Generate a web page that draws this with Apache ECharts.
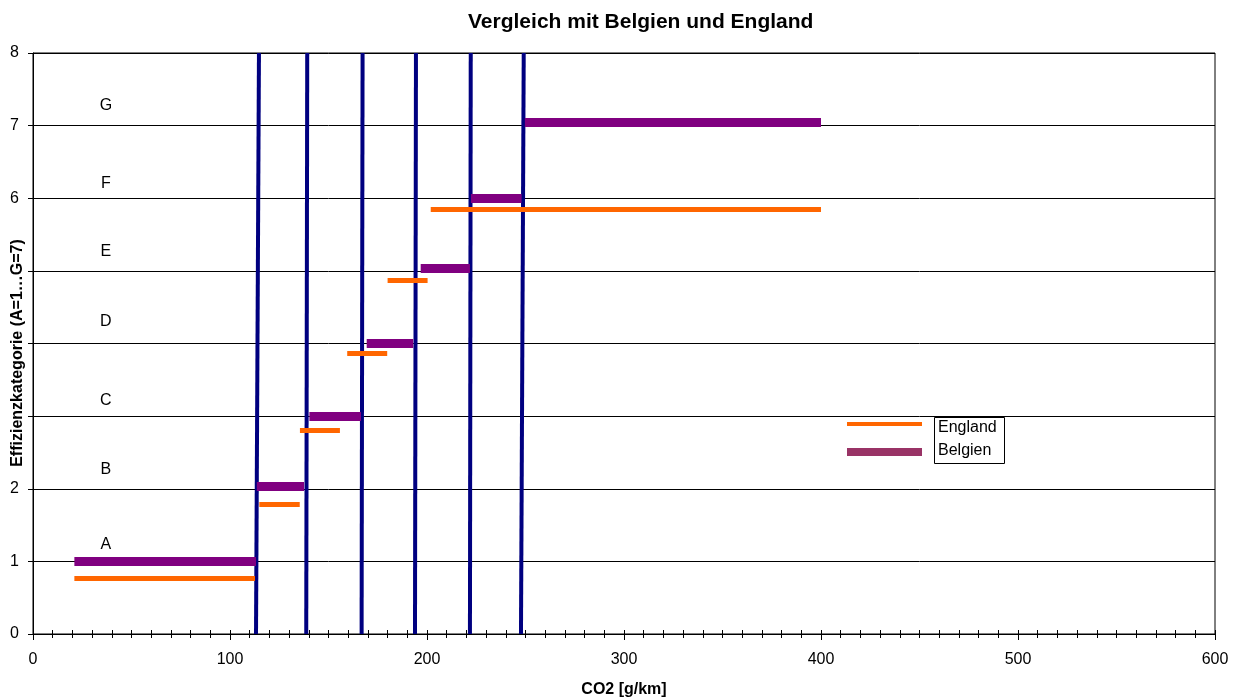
<!DOCTYPE html>
<html>
<head>
<meta charset="utf-8">
<script src="https://cdn.jsdelivr.net/npm/echarts@6/dist/echarts.min.js"></script>
<style>
  html, body { margin: 0; padding: 0; background: #fff; }
  #chart { width: 1238px; height: 699px; }
</style>
</head>
<body>
<div id="chart"></div>
<script>
const FONT = '"Liberation Sans", Arial, sans-serif';

// Class boundaries: x at the bottom (level 0) and at the top (level 8)
const boundaryBottom = [113.2, 138.7, 166.8, 193.9, 221.8, 247.7];
const boundaryTop    = [114.7, 139.2, 167.3, 194.4, 222.2, 249.1];

// Belgium: CO2 range per class and its level
const belgienStart = [21, 113.6, 140.3, 169.4, 196.8, 222.3, 249.7];
const belgienEnd   = [113.2, 137.6, 166.5, 193.0, 221.8, 248.0, 400];
const belgienLevel = [1.0, 2.03, 3.0, 4.0, 5.03, 6.0, 7.04];

// England: CO2 range per class and its level
const englandStart = [21, 114.9, 135.5, 159.5, 180, 201.9];
const englandEnd   = [112.7, 135.4, 155.8, 179.8, 200.3, 400];
const englandLevel = [0.77, 1.79, 2.8, 3.86, 4.87, 5.85];

// Class letters written inside the plot
const classLetters = ['A', 'B', 'C', 'D', 'E', 'F', 'G'];
const letterX = 37;
const letterY = [1.23, 2.26, 3.22, 4.3, 5.26, 6.2, 7.28];

const yAxisTitle = 'Effizienzkategorie (A=1…G=7)';

const segments = (starts, ends, levels) =>
  starts.map((s, i) => ({ coords: [[s, levels[i]], [ends[i], levels[i]]] }));

const chart = echarts.init(document.getElementById('chart'), null, { renderer: 'canvas' });

chart.setOption({
  animation: false,
  backgroundColor: '#fff',
  title: {
    text: 'Vergleich mit Belgien und England',
    left: 463,
    top: 7,
    textStyle: { fontFamily: FONT, fontSize: 21, fontWeight: 'bold', color: '#000' }
  },
  grid: {
    left: 33, right: 23, top: 53, bottom: 65,
    outerBoundsMode: 'none', containLabel: false,
    show: true, borderColor: '#000', borderWidth: 1, backgroundColor: 'transparent'
  },
  xAxis: [
    {
      type: 'value', min: 0, max: 600, interval: 100,
      name: 'CO2 [g/km]', nameLocation: 'middle', nameGap: 48, nameMoveOverlap: false,
      nameTextStyle: { fontFamily: FONT, fontSize: 16, fontWeight: 'bold', color: '#000' },
      axisLine: { show: true, onZero: false, lineStyle: { color: '#000', width: 1 } },
      axisTick: { show: true, inside: false, length: 6, lineStyle: { color: '#000' } },
      minorTick: { show: true, splitNumber: 10, length: 4, lineStyle: { color: '#000' } },
      axisLabel: { margin: 18, fontFamily: FONT, fontSize: 16, color: '#000' },
      splitLine: { show: false }
    },
    {
      type: 'value', min: 0, max: 600, interval: 100, position: 'bottom',
      axisLine: { show: false },
      axisTick: { show: true, inside: true, length: 4, lineStyle: { color: '#000' } },
      minorTick: { show: true, splitNumber: 10, length: 4, lineStyle: { color: '#000' } },
      axisLabel: { show: false },
      splitLine: { show: false }
    }
  ],
  yAxis: {
    type: 'value', min: 0, max: 8, interval: 1,
    axisLine: { show: true, lineStyle: { color: '#000', width: 1 } },
    axisTick: { show: true, inside: false, length: 5, lineStyle: { color: '#000' } },
    axisLabel: { margin: 14, fontFamily: FONT, fontSize: 16, color: '#000' },
    splitLine: { show: true, lineStyle: { color: '#000', width: 1 } }
  },
  series: [
    {
      name: 'Klassengrenzen',
      type: 'lines', coordinateSystem: 'cartesian2d', z: 2,
      lineStyle: { color: '#000080', width: 4, opacity: 1 },
      data: boundaryBottom.map((b, i) => ({ coords: [[b, 0], [boundaryTop[i], 8]] }))
    },
    {
      name: 'Belgien',
      type: 'lines', coordinateSystem: 'cartesian2d', z: 3,
      lineStyle: { color: '#800080', width: 9, opacity: 1, cap: 'butt' },
      data: segments(belgienStart, belgienEnd, belgienLevel)
    },
    {
      name: 'England',
      type: 'lines', coordinateSystem: 'cartesian2d', z: 4,
      lineStyle: { color: '#FF6600', width: 5, opacity: 1, cap: 'butt' },
      data: segments(englandStart, englandEnd, englandLevel)
    },
    {
      name: 'Klassen',
      type: 'scatter', z: 5,
      symbol: 'circle', symbolSize: 1,
      itemStyle: { color: 'rgba(0,0,0,0)' },
      label: {
        show: true, position: 'inside',
        formatter: p => p.data[2],
        fontFamily: FONT, fontSize: 16, color: '#000',
        textBorderWidth: 0, opacity: 1
      },
      data: classLetters.map((c, i) => [letterX, letterY[i], c])
    }
  ],
  graphic: [
    // y-axis title, drawn above the tick labels it crosses
    { type: 'text', z: 20, x: 18, y: 353, rotation: Math.PI / 2,
      style: { text: yAxisTitle, fontFamily: FONT, fontSize: 16, fontWeight: 'bold', fill: '#000',
               align: 'center', verticalAlign: 'middle', backgroundColor: '#fff' } },
    // legend
    { type: 'line', z: 10, shape: { x1: 847, y1: 424, x2: 922, y2: 424 },
      style: { stroke: '#FF6600', lineWidth: 4 } },
    { type: 'line', z: 10, shape: { x1: 847, y1: 452, x2: 922, y2: 452 },
      style: { stroke: '#993366', lineWidth: 8 } },
    { type: 'rect', z: 10, shape: { x: 934.5, y: 417.5, width: 70, height: 46 },
      style: { fill: '#fff', stroke: '#000', lineWidth: 1 } },
    { type: 'text', z: 11, x: 938, y: 428,
      style: { text: 'England', fontFamily: FONT, fontSize: 16, fill: '#000', verticalAlign: 'middle' } },
    { type: 'text', z: 11, x: 938, y: 451,
      style: { text: 'Belgien', fontFamily: FONT, fontSize: 16, fill: '#000', verticalAlign: 'middle' } }
  ]
});
</script>
</body>
</html>
